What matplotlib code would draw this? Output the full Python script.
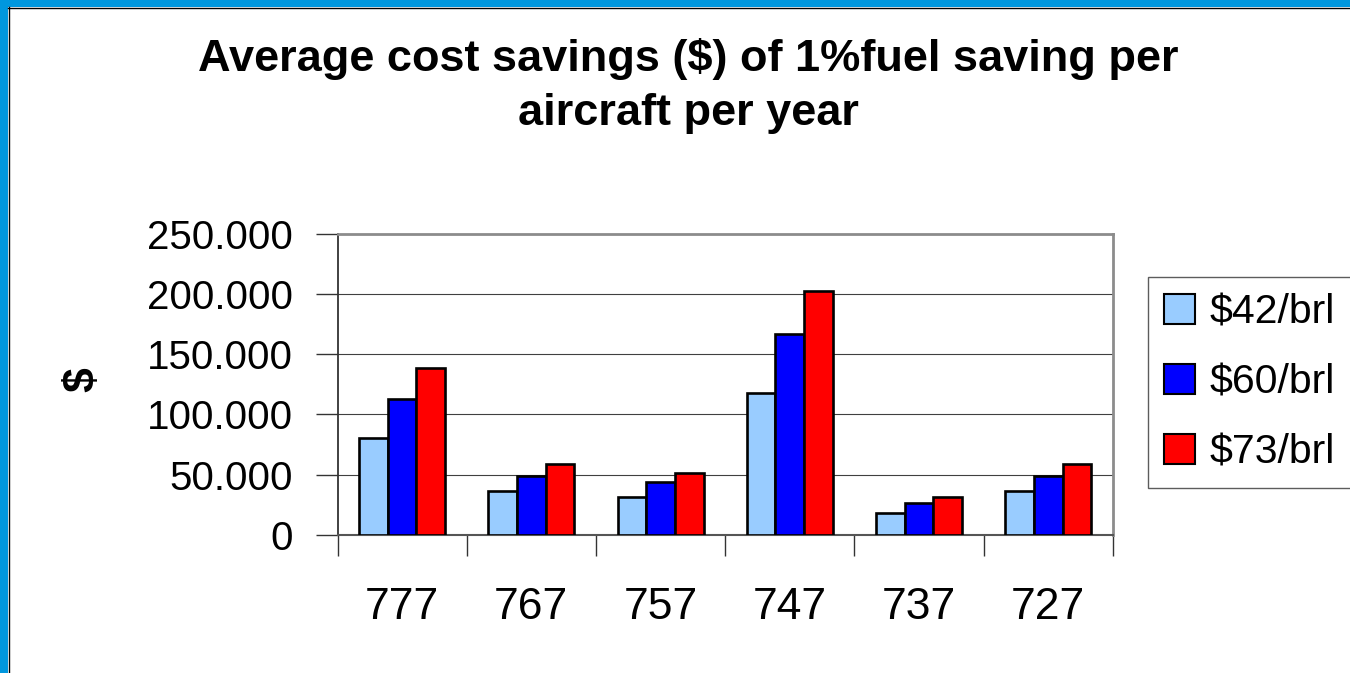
import numpy as np
import matplotlib.pyplot as plt
from matplotlib.patches import Rectangle

# данные: средняя экономия ($) при экономии топлива 1% на самолёт в год
aircraft = ['777', '767', '757', '747', '737', '727']
price_labels = ['$42/brl', '$60/brl', '$73/brl']
cost_42 = [80000, 36000, 31000, 118000, 18000, 36000]
cost_60 = [113000, 49000, 44000, 167000, 26000, 49000]
cost_73 = [139000, 59000, 51000, 203000, 31000, 59000]
y_ticks = [0, 50000, 100000, 150000, 200000, 250000]
y_tick_labels = ['0', '50.000', '100.000', '150.000', '200.000', '250.000']

colors = ['#99CCFF', '#0000FF', '#FF0000']

plt.rcParams['font.family'] = ['Liberation Sans', 'DejaVu Sans']

fig = plt.figure(figsize=(13.5, 6.73), dpi=100)
ax = fig.add_axes([0.25, 0.2055, 0.5744, 0.4468])

x = np.arange(len(aircraft))
w = 1 / 4.5  # как в Excel, зазор 150%
for i, vals in enumerate([cost_42, cost_60, cost_73]):
    ax.bar(x + (i - 1) * w, vals, width=w, color=colors[i], edgecolor='black',
           linewidth=1.9, label=price_labels[i], zorder=3)

ax.set_xlim(-0.5, len(aircraft) - 0.5)
ax.set_ylim(0, 250000)

ax.set_yticks(y_ticks)
ax.set_yticklabels(y_tick_labels, fontsize=29)
ax.tick_params(axis='y', direction='out', length=16, width=1, color='#333333', pad=16)
ax.yaxis.grid(True, color='#404040', linewidth=0.8, zorder=0)

# подписи по центрам, риски на границах категорий
ax.set_xticks(x)
ax.set_xticklabels(aircraft, fontsize=32)
ax.tick_params(axis='x', which='major', length=0, pad=38)
ax.set_xticks(np.arange(-0.5, len(aircraft)), minor=True)
ax.tick_params(axis='x', which='minor', direction='out', length=15, width=1, color='#333333')

ax.spines['top'].set_color('#8c8c8c')
ax.spines['right'].set_color('#8c8c8c')
ax.spines['top'].set_linewidth(2)
ax.spines['right'].set_linewidth(2)
ax.spines['left'].set_color('#333333')
ax.spines['left'].set_linewidth(1.3)
ax.spines['bottom'].set_color('#555555')
ax.spines['bottom'].set_linewidth(1.5)

fig.text(83 / 1350, 1 - 380 / 673, '$', rotation=90, fontsize=32, fontweight='bold',
         ha='center', va='center')

fig.text(688 / 1350, 1 - 38 / 673,
         'Average cost savings ($) of 1%fuel saving per\naircraft per year',
         ha='center', va='top', fontsize=32.5, fontweight='bold', linespacing=1.42)

leg = ax.legend(loc='upper left', bbox_to_anchor=(1148 / 1350, 1 - 277 / 673),
                bbox_transform=fig.transFigure, borderaxespad=0, fontsize=29.5,
                handlelength=0.75, handleheight=0.75, handletextpad=0.35,
                labelspacing=0.78, borderpad=0.4, frameon=True, fancybox=False)
leg.get_frame().set_edgecolor('#333333')
leg.get_frame().set_linewidth(1)
for h in leg.legend_handles:
    h.set_linewidth(1.5)

# синяя рамка слайда слева и сверху
fig.patches.append(Rectangle((0, 0), 8 / 1350, 1, transform=fig.transFigure,
                             facecolor='#0097DE', edgecolor='none'))
fig.patches.append(Rectangle((0, 1 - 7 / 673), 1, 7 / 673, transform=fig.transFigure,
                             facecolor='#0097DE', edgecolor='none'))
fig.add_artist(plt.Line2D([8.5 / 1350, 8.5 / 1350], [0, 1 - 7 / 673], color='black',
                          linewidth=1, transform=fig.transFigure))
fig.add_artist(plt.Line2D([8 / 1350, 1], [1 - 7.5 / 673, 1 - 7.5 / 673], color='black',
                          linewidth=1, transform=fig.transFigure))

fig.savefig('out.png', dpi=100)
